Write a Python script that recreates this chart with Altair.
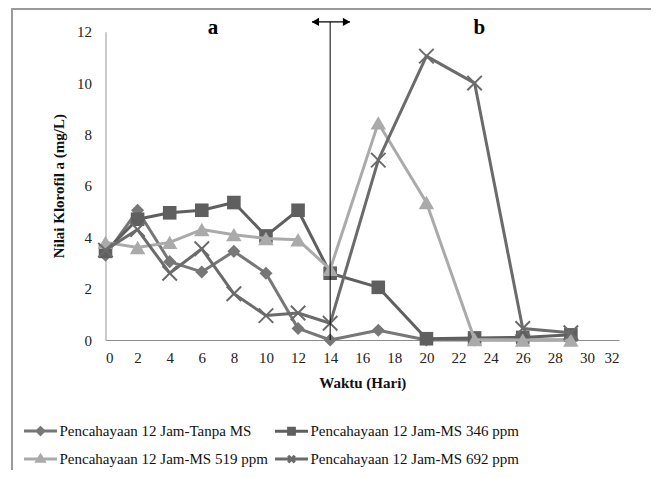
import altair as alt
import pandas as pd

# ---- data ----
days = [0, 2, 4, 6, 8, 10, 12, 14, 17, 20, 23, 26, 29]
series_names = [
    "Pencahayaan 12 Jam-Tanpa MS",
    "Pencahayaan 12 Jam-MS 346 ppm",
    "Pencahayaan 12 Jam-MS 519 ppm",
    "Pencahayaan 12 Jam-MS 692 ppm",
]
tanpa_ms = [3.3, 5.05, 3.05, 2.65, 3.45, 2.6, 0.45, 0.0, 0.38, 0.0, 0.0, 0.0, 0.0]
ms_346 = [3.45, 4.7, 4.95, 5.05, 5.35, 4.05, 5.05, 2.6, 2.05, 0.05, 0.08, 0.1, 0.2]
ms_519 = [3.8, 3.6, 3.8, 4.3, 4.1, 3.95, 3.9, 2.75, 8.45, 5.35, 0.02, 0.0, 0.0]
ms_692 = [3.5, 4.3, 2.6, 3.55, 1.8, 0.95, 1.05, 0.65, 7.0, 11.05, 10.0, 0.45, 0.28]
series_values = [tanpa_ms, ms_346, ms_519, ms_692]

x_ticks = list(range(0, 33, 2))
y_ticks = list(range(0, 13, 2))

panel_labels = ["a", "b"]
panel_label_x = [6.7, 23.3]
panel_label_y = [12.14, 12.14]

divider_x = 14
divider_top = 12.38
arrow_x = [12.87, 15.23]
arrow_head_x = [13.08, 15.02]
arrow_head_shape = ["triangle-left", "triangle-right"]

# ---- styles ----
colors = ["#777777", "#5f5f5f", "#aaaaaa", "#6b6b6b"]
point_shapes = ["diamond", "square", "triangle-up", "M-1,-1L1,1M-1,1L1,-1"]
point_sizes = [170, 185, 240, 210]
point_filled = [True, True, True, False]
legend_paths = [
    "M-1.6,0L1.6,0M0,-0.32L0.32,0L0,0.32L-0.32,0ZM0,-0.06L0.06,0L0,0.06L-0.06,0Z",
    "M-1.6,0L1.6,0M-0.28,-0.28L0.28,-0.28L0.28,0.28L-0.28,0.28ZM-0.05,-0.05L0.05,-0.05L0.05,0.05L-0.05,0.05Z",
    "M-1.6,0L1.6,0M0,-0.34L0.34,0.22L-0.34,0.22ZM0,-0.05L0.07,0.08L-0.07,0.08Z",
    "M-1.6,0L1.6,0M-0.32,-0.32L0.32,0.32M-0.32,0.32L0.32,-0.32",
]
# legend fills column by column: order so rows read Tanpa | 346, 519 | 692
legend_order = [0, 2, 1, 3]

FONT = "Liberation Serif"

x_enc = alt.X(
    "day:Q",
    scale=alt.Scale(domain=[0, 32], nice=False, zero=False),
    axis=alt.Axis(
        values=x_ticks, title="Waktu (Hari)", ticks=False, grid=False,
        labelPadding=10, domainColor="#8c8c8c", domainWidth=1.2,
        titleX=256.75, titleY=42, titleAlign="center", titleBaseline="middle",
    ),
)
y_enc = alt.Y(
    "value:Q",
    scale=alt.Scale(domain=[0, 12], nice=False, zero=True),
    axis=alt.Axis(
        values=y_ticks, title="Nilai Klorofil a (mg/L)", ticks=False, grid=False,
        labelPadding=14, domainColor="#a8a8a8", domainWidth=1.2,
        titleX=-47.5, titleY=154, titleAlign="center", titleBaseline="middle",
    ),
)

layers = []

# frame around the whole figure
frame = alt.Chart(pd.DataFrame({"k": [0]})).mark_rect(
    fillOpacity=0, stroke="#9a9a9a", strokeWidth=2
).encode(
    x=alt.value(-93.5), x2=alt.value(546.5), y=alt.value(-22.7), y2=alt.value(600)
)
layers.append(frame)

for name, vals, c, shp, sz, fl in zip(series_names, series_values, colors,
                                      point_shapes, point_sizes, point_filled):
    df = pd.DataFrame({"day": days, "value": vals, "series": name})
    line = alt.Chart(df).mark_line(color=c, strokeWidth=3, strokeJoin="round").encode(
        x=x_enc, y=y_enc
    )
    if fl:
        pts = alt.Chart(df).mark_point(shape=shp, size=sz, filled=True, color=c, opacity=1).encode(
            x=x_enc, y=y_enc
        )
    else:
        pts = alt.Chart(df).mark_point(shape=shp, size=sz, filled=False, color=c,
                                       strokeWidth=2, opacity=1).encode(x=x_enc, y=y_enc)
    layers += [line, pts]

# divider line at day 14
div_df = pd.DataFrame({"day": [divider_x], "value": [0], "value2": [divider_top]})
layers.append(
    alt.Chart(div_df).mark_rule(color="black", strokeWidth=1).encode(
        x=x_enc, y=y_enc, y2="value2:Q"
    )
)
# double arrow
arr_df = pd.DataFrame({"day": [arrow_x[0]], "day2": [arrow_x[1]], "value": [divider_top]})
layers.append(
    alt.Chart(arr_df).mark_rule(color="black", strokeWidth=1.3).encode(
        x=x_enc, x2="day2:Q", y=y_enc
    )
)
for hx, hs in zip(arrow_head_x, arrow_head_shape):
    hd = pd.DataFrame({"day": [hx], "value": [divider_top]})
    layers.append(
        alt.Chart(hd).mark_point(shape=hs, size=70, filled=True, color="black", opacity=1).encode(
            x=x_enc, y=y_enc
        )
    )

# panel labels
lab_df = pd.DataFrame({"day": panel_label_x, "value": panel_label_y, "label": panel_labels})
layers.append(
    alt.Chart(lab_df).mark_text(font=FONT, fontSize=21, fontWeight="bold", color="black",
                                baseline="middle").encode(x=x_enc, y=y_enc, text="label:N")
)

# legend layer (invisible marks, visible legend)
leg_names = [series_names[i] for i in legend_order]
leg_paths = [legend_paths[i] for i in legend_order]
leg_colors = [colors[i] for i in legend_order]
leg = alt.Legend(
    title=None, orient="none", legendX=-77, legendY=387, columns=2,
    symbolSize=425, symbolStrokeWidth=3, symbolOpacity=1,
    labelFont=FONT, labelFontSize=15, labelColor="#111", labelOffset=7,
    rowPadding=6.4, columnPadding=0, padding=0, labelLimit=0,
)
leg_df = pd.DataFrame({"series": leg_names})
layers.append(
    alt.Chart(leg_df).mark_point(opacity=0, filled=False, strokeWidth=3).encode(
        x=alt.value(0), y=alt.value(0),
        shape=alt.Shape("series:N", scale=alt.Scale(domain=leg_names, range=leg_paths), legend=leg),
        color=alt.Color("series:N", scale=alt.Scale(domain=leg_names, range=leg_colors), legend=leg),
    )
)

chart = alt.layer(*layers).properties(
    width=513.5, height=308.3,
    padding={"left": 97.5, "top": 23.7, "right": 32, "bottom": 130},
    autosize="none",
).configure(font=FONT).configure_view(stroke=None).configure_axis(
    labelFont=FONT, labelFontSize=15, labelColor="#222",
    titleFont=FONT, titleFontSize=15, titleFontWeight="bold", titleColor="#111",
).configure_legend(labelFont=FONT)

chart.save("out.html", embed_options={"renderer": "svg", "actions": False})
